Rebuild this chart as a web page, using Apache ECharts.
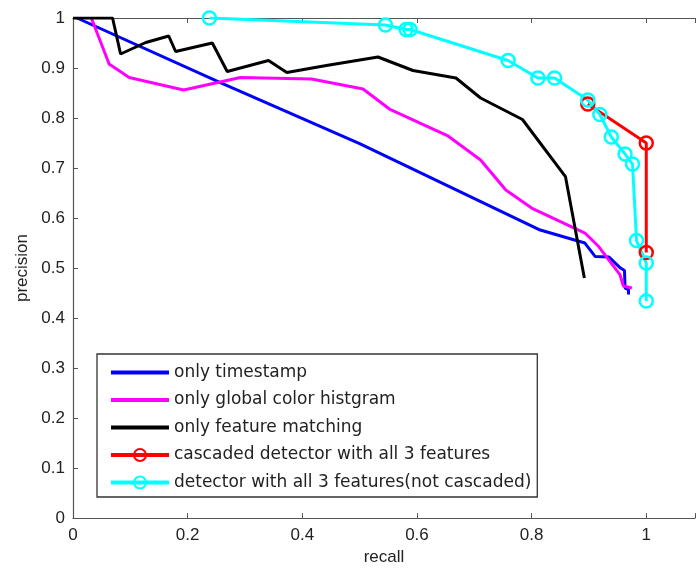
<!DOCTYPE html>
<html>
<head>
<meta charset="utf-8">
<script src="https://cdn.jsdelivr.net/npm/echarts@6/dist/echarts.min.js"></script>
<style>
  html, body { margin: 0; padding: 0; background: #fff; }
  #chart { width: 698px; height: 571px; }
</style>
</head>
<body>
<div id="chart"></div>
<script>
// series names (legend order)
var names = [
  'only timestamp',
  'only global color histgram',
  'only feature matching',
  'cascaded detector with all 3 features',
  'detector with all 3 features(not cascaded)'
];
var colors = ['#0000ff', '#ff00ff', '#000000', '#ff0000', '#00ffff'];

// recall / precision
var timeRecall = [0.007, 0.257, 0.5, 0.815, 0.893, 0.911, 0.935, 0.955, 0.962, 0.963, 0.969, 0.969];
var timePrec   = [1.0, 0.871, 0.749, 0.576, 0.55, 0.523, 0.522, 0.5, 0.495, 0.46, 0.457, 0.447];

var colorRecall = [0.032, 0.063, 0.098, 0.193, 0.292, 0.416, 0.506, 0.552, 0.653, 0.711, 0.755, 0.8, 0.893, 0.917, 0.954, 0.96, 0.975];
var colorPrec   = [1.0, 0.908, 0.881, 0.856, 0.881, 0.878, 0.858, 0.818, 0.765, 0.716, 0.656, 0.62, 0.57, 0.543, 0.487, 0.464, 0.46];

var featRecall = [0.0, 0.069, 0.083, 0.127, 0.167, 0.179, 0.243, 0.269, 0.341, 0.373, 0.442, 0.532, 0.593, 0.668, 0.711, 0.784, 0.859, 0.892];
var featPrec   = [1.0, 1.0, 0.928, 0.951, 0.964, 0.933, 0.950, 0.893, 0.915, 0.891, 0.905, 0.922, 0.895, 0.88, 0.84, 0.797, 0.683, 0.48];

var cascRecall = [0.898, 1.0, 1.0];
var cascPrec   = [0.828, 0.75, 0.531];

var allRecall = [0.238, 0.545, 0.581, 0.588, 0.759, 0.811, 0.840, 0.898, 0.919, 0.939, 0.963, 0.976, 0.983, 1.0, 1.0];
var allPrec   = [1.0, 0.986, 0.977, 0.977, 0.915, 0.88, 0.88, 0.836, 0.807, 0.762, 0.728, 0.708, 0.555, 0.51, 0.434];

function pairs(xs, ys) {
  return xs.map(function (x, i) { return [x, ys[i]]; });
}

var font = 'Liberation Sans, Arial, sans-serif';
var legendFont = 'DejaVu Sans, sans-serif';

function plainLine(i, xs, ys) {
  return {
    name: names[i], type: 'line', data: pairs(xs, ys),
    showSymbol: false, symbol: 'none', animation: false,
    lineStyle: { color: colors[i], width: 3 },
    itemStyle: { color: colors[i] }
  };
}
function markedLine(i, xs, ys) {
  return {
    name: names[i], type: 'line', data: pairs(xs, ys),
    symbol: 'circle', symbolSize: 13, animation: false,
    lineStyle: { color: colors[i], width: 3 },
    itemStyle: { color: 'rgba(255,255,255,0)', borderColor: colors[i], borderWidth: 2.5 }
  };
}

// legend: no marker on the plain lines
var legendData = names.map(function (n, i) {
  return i < 3 ? { name: n, itemStyle: { opacity: 0 } } : { name: n };
});

var myChart = echarts.init(document.getElementById('chart'));
myChart.setOption({
  animation: false,
  grid: { left: 73, top: 18, right: 0, bottom: 51 },
  legend: {
    orient: 'vertical', left: 97, top: 354,
    padding: [10, 6, 6, 12],
    itemWidth: 58, itemHeight: 15, itemGap: 10.5,
    borderColor: '#333', borderWidth: 1.3, backgroundColor: '#fff',
    lineStyle: { width: 4 },
    textStyle: { fontFamily: legendFont, fontSize: 17, color: '#222' },
    data: legendData
  },
  xAxis: [{
    type: 'value', min: 0, max: 1.085, interval: 0.2,
    name: 'recall', nameLocation: 'middle', nameGap: 27,
    nameTextStyle: { fontFamily: font, fontSize: 17, color: '#222' },
    axisLine: { show: true, lineStyle: { color: '#555', width: 1.2 } },
    axisTick: { show: true, inside: true, length: 5, lineStyle: { color: '#555' } },
    axisLabel: {
      fontFamily: font, fontSize: 17, color: '#222', margin: 9,
      formatter: function (v) { return v > 1.0001 ? '' : String(+v.toFixed(1)); }
    },
    splitLine: { show: false }
  }, {
    type: 'value', position: 'top', min: 0, max: 1.085, interval: 0.2,
    axisLine: { show: true, lineStyle: { color: '#555', width: 1.2 } },
    axisTick: { show: true, inside: true, length: 5, lineStyle: { color: '#555' } },
    axisLabel: { show: false },
    splitLine: { show: false }
  }],
  yAxis: {
    type: 'value', min: 0, max: 1, interval: 0.1,
    name: 'precision', nameLocation: 'middle', nameGap: 42,
    nameTextStyle: { fontFamily: font, fontSize: 17, color: '#222' },
    axisLine: { show: true, lineStyle: { color: '#555', width: 1.2 } },
    axisTick: { show: true, inside: true, length: 5, lineStyle: { color: '#555' } },
    axisLabel: {
      fontFamily: font, fontSize: 17, color: '#222', margin: 8,
      formatter: function (v) { return String(+v.toFixed(1)); }
    },
    splitLine: { show: false }
  },
  series: [
    plainLine(0, timeRecall, timePrec),
    plainLine(1, colorRecall, colorPrec),
    plainLine(2, featRecall, featPrec),
    markedLine(3, cascRecall, cascPrec),
    markedLine(4, allRecall, allPrec)
  ]
});
window.addEventListener('resize', function () { myChart.resize(); });
</script>
</body>
</html>
